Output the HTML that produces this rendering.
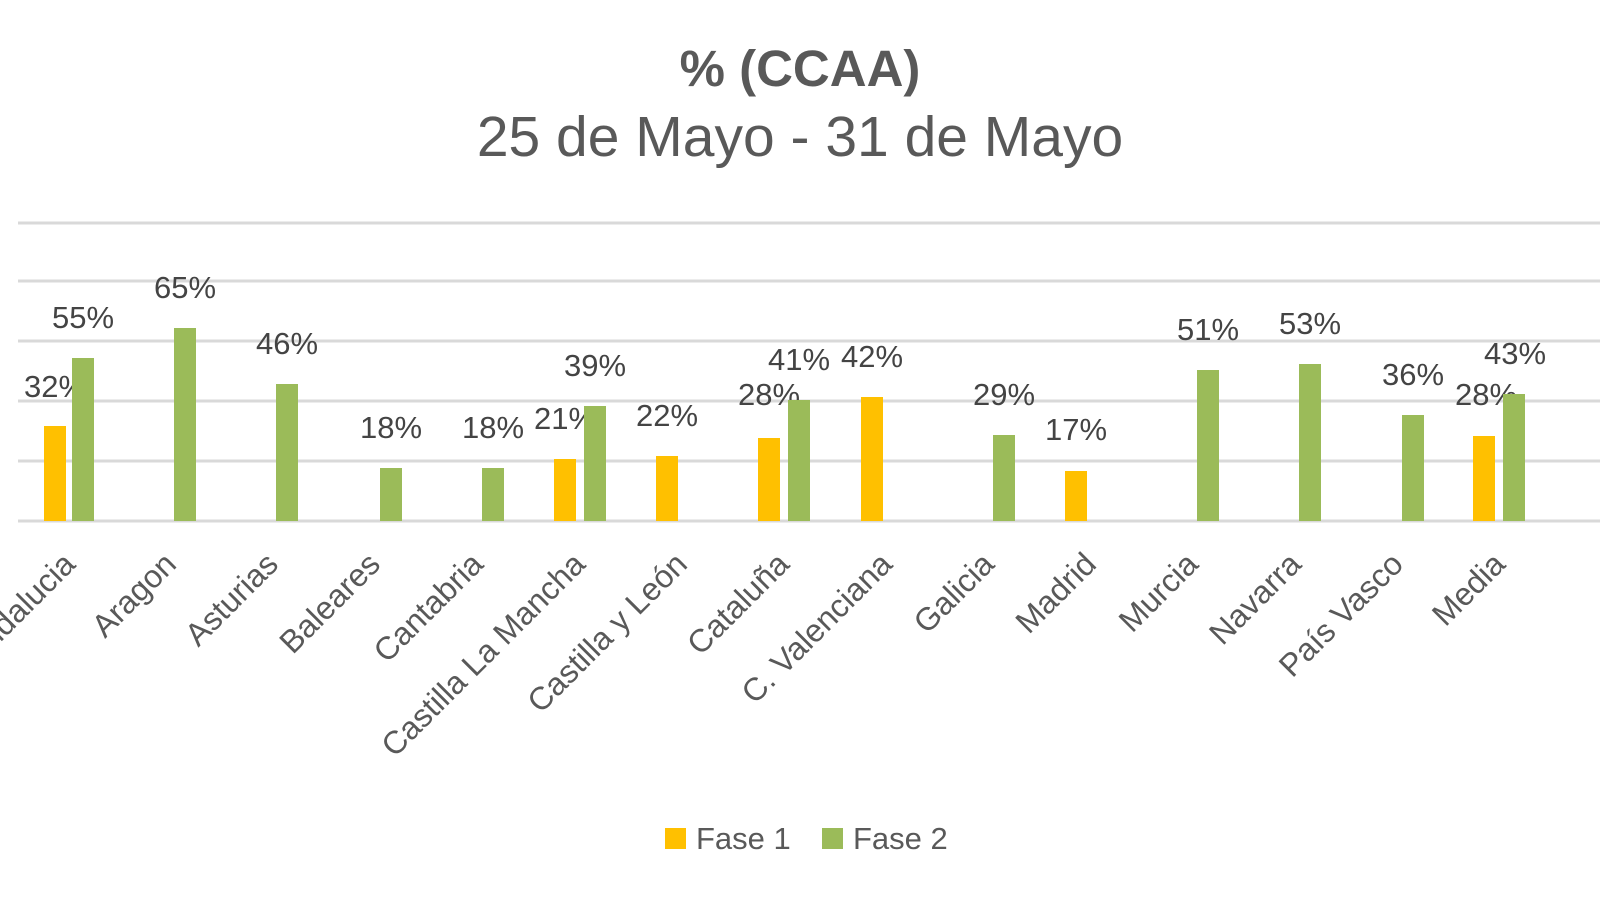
<!DOCTYPE html>
<html><head><meta charset="utf-8"><style>html,body{margin:0;padding:0;background:#fff;}svg{display:block}</style></head>
<body>
<svg width="1600" height="900" viewBox="0 0 1600 900" xmlns="http://www.w3.org/2000/svg" font-family="Liberation Sans, sans-serif" fill="#404040">
<text x="800" y="86" text-anchor="middle" font-size="51" font-weight="bold" fill="#595959">% (CCAA)</text>
<text x="800" y="156" text-anchor="middle" font-size="57" fill="#595959">25 de Mayo - 31 de Mayo</text>
<g stroke="#d9d9d9" stroke-width="3">
<line x1="18" y1="223" x2="1600" y2="223"/>
<line x1="18" y1="281" x2="1600" y2="281"/>
<line x1="18" y1="341" x2="1600" y2="341"/>
<line x1="18" y1="401" x2="1600" y2="401"/>
<line x1="18" y1="461" x2="1600" y2="461"/>
<line x1="18" y1="521" x2="1600" y2="521"/>
</g>
<g font-size="31" fill="#595959">
<rect x="665" y="828" width="21" height="21" fill="#FFC000"/>
<text x="696" y="849">Fase 1</text>
<rect x="822" y="828" width="21" height="21" fill="#9BBB59"/>
<text x="853" y="849">Fase 2</text>
</g>
<g font-size="31" fill="#444" text-anchor="middle">
<rect x="44" y="426" width="22" height="95" fill="#FFC000"/><text x="55" y="397">32%</text>
<rect x="72" y="358" width="22" height="163" fill="#9BBB59"/><text x="83" y="328">55%</text>
<rect x="174" y="328" width="22" height="193" fill="#9BBB59"/><text x="185" y="298">65%</text>
<rect x="276" y="384" width="22" height="137" fill="#9BBB59"/><text x="287" y="354">46%</text>
<rect x="380" y="468" width="22" height="53" fill="#9BBB59"/><text x="391" y="438">18%</text>
<rect x="482" y="468" width="22" height="53" fill="#9BBB59"/><text x="493" y="438">18%</text>
<rect x="554" y="459" width="22" height="62" fill="#FFC000"/><text x="565" y="429">21%</text>
<rect x="584" y="406" width="22" height="115" fill="#9BBB59"/><text x="595" y="376">39%</text>
<rect x="656" y="456" width="22" height="65" fill="#FFC000"/><text x="667" y="426">22%</text>
<rect x="758" y="438" width="22" height="83" fill="#FFC000"/><text x="769" y="405">28%</text>
<rect x="788" y="400" width="22" height="121" fill="#9BBB59"/><text x="799" y="370">41%</text>
<rect x="861" y="397" width="22" height="124" fill="#FFC000"/><text x="872" y="367">42%</text>
<rect x="993" y="435" width="22" height="86" fill="#9BBB59"/><text x="1004" y="405">29%</text>
<rect x="1065" y="471" width="22" height="50" fill="#FFC000"/><text x="1076" y="440">17%</text>
<rect x="1197" y="370" width="22" height="151" fill="#9BBB59"/><text x="1208" y="340">51%</text>
<rect x="1299" y="364" width="22" height="157" fill="#9BBB59"/><text x="1310" y="334">53%</text>
<rect x="1402" y="415" width="22" height="106" fill="#9BBB59"/><text x="1413" y="385">36%</text>
<rect x="1473" y="436" width="22" height="85" fill="#FFC000"/><text x="1486" y="405">28%</text>
<rect x="1503" y="394" width="22" height="127" fill="#9BBB59"/><text x="1515" y="364">43%</text>
</g>
<g font-size="32" fill="#595959" text-anchor="end">
<text transform="translate(77,566) rotate(-45)">Andalucia</text>
<text transform="translate(178,566) rotate(-45)">Aragon</text>
<text transform="translate(280,566) rotate(-45)">Asturias</text>
<text transform="translate(382,566) rotate(-45)">Baleares</text>
<text transform="translate(485,566) rotate(-45)">Cantabria</text>
<text transform="translate(587,566) rotate(-45)">Castilla La Mancha</text>
<text transform="translate(689,566) rotate(-45)">Castilla y León</text>
<text transform="translate(791,566) rotate(-45)">Cataluña</text>
<text transform="translate(894,566) rotate(-45)">C. Valenciana</text>
<text transform="translate(996,566) rotate(-45)">Galicia</text>
<text transform="translate(1098,566) rotate(-45)">Madrid</text>
<text transform="translate(1200,566) rotate(-45)">Murcia</text>
<text transform="translate(1303,566) rotate(-45)">Navarra</text>
<text transform="translate(1405,566) rotate(-45)">País Vasco</text>
<text transform="translate(1507,566) rotate(-45)">Media</text>
</g>
</svg>
</body></html>
